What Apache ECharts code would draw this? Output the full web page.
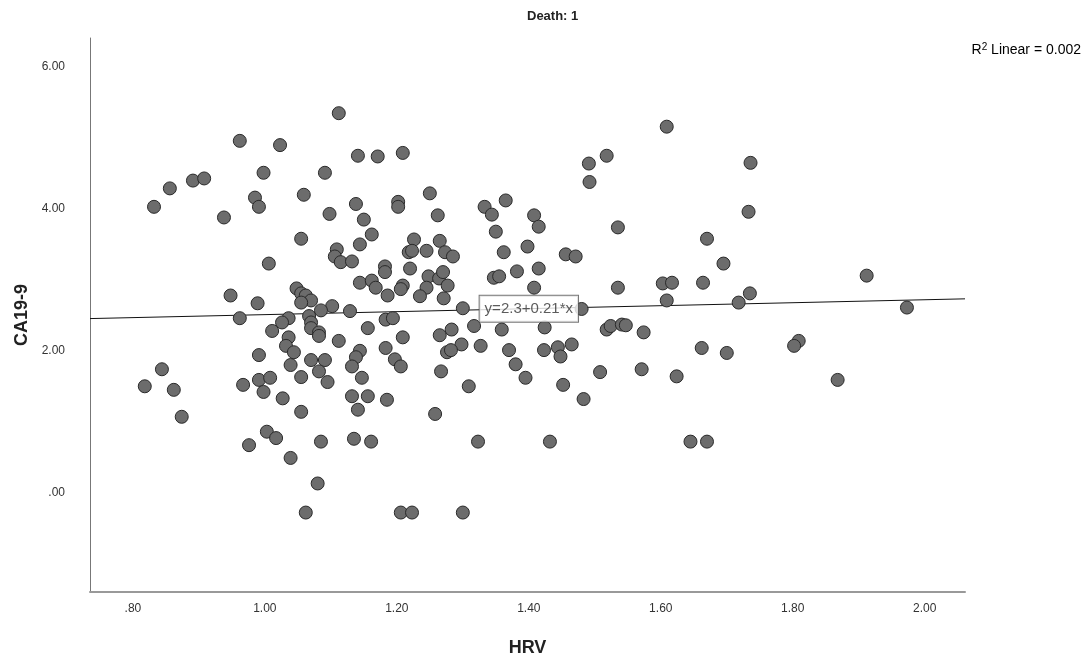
<!DOCTYPE html>
<html><head><meta charset="utf-8">
<script src="https://cdn.jsdelivr.net/npm/echarts@6/dist/echarts.min.js"></script>
<style>html,body{margin:0;padding:0;background:#fff}#c{width:1084px;height:658px}</style>
</head><body><div id="c"></div>
<script>
// HRV (x) values of each case
const hrv = [
1.112,0.962,1.023,1.141,1.171,0.998,1.091,0.856,0.891,0.908,0.832,0.985,0.991,1.059,1.138,0.938,1.098,1.150,
1.209,1.609,1.491,1.518,1.492,1.202,1.202,1.250,1.262,1.333,1.344,1.365,1.408,1.415,1.535,1.350,1.736,1.733,
1.055,1.162,1.144,1.109,1.106,1.115,1.132,1.006,1.182,1.182,1.144,1.162,1.168,1.186,1.048,1.055,1.062,1.070,
1.055,0.948,0.989,1.102,1.085,1.129,0.962,1.036,1.026,1.067,1.070,1.070,1.082,1.082,1.156,1.183,1.011,1.036,
1.032,1.044,1.112,1.144,1.138,1.132,1.183,0.991,1.039,1.070,1.091,1.082,0.844,1.055,1.147,0.818,0.862,0.967,
0.991,1.008,1.095,0.998,1.027,1.132,1.156,1.185,1.055,1.141,0.874,1.003,1.017,0.976,1.039,1.085,1.135,1.161,
1.080,1.062,1.226,1.265,1.218,1.223,1.245,1.273,1.285,1.362,1.398,1.456,1.471,1.220,1.248,1.264,1.270,1.347,
1.355,1.382,1.415,1.209,1.206,1.245,1.277,1.408,1.535,1.603,1.617,1.235,1.271,1.300,1.480,1.609,1.194,1.317,
1.359,1.424,1.518,1.524,1.541,1.547,1.574,1.283,1.265,1.209,1.298,1.327,1.276,1.282,1.370,1.423,1.444,1.465,
1.448,1.197,1.206,1.267,1.380,1.395,1.508,1.571,1.624,1.309,1.452,1.483,1.258,1.670,1.695,1.664,1.718,1.735,
1.912,1.973,1.662,1.700,1.809,1.802,1.868,1.323,1.432,1.206,1.223,1.300,1.645,1.670
];
// CA19-9 (y) values of each case
const ca199 = [
5.35,4.96,4.90,4.75,4.74,4.51,4.51,4.29,4.40,4.43,4.03,4.16,4.03,4.20,4.07,3.88,3.93,3.85,
4.79,5.16,4.64,4.75,4.38,4.10,4.03,4.22,3.91,4.03,3.92,4.12,3.91,3.75,3.74,3.68,4.65,3.96,
3.58,3.64,3.50,3.43,3.33,3.25,3.26,3.23,3.19,3.11,2.96,2.99,2.89,2.78,2.88,2.81,2.78,2.71,
2.68,2.78,2.67,2.63,2.57,2.56,2.46,2.46,2.40,2.49,2.40,2.32,2.26,2.21,2.32,2.44,2.28,2.19,
2.07,1.98,2.14,2.00,1.91,1.78,2.04,1.94,1.80,1.87,1.87,1.71,1.74,1.63,1.62,1.50,1.45,1.52,
1.59,1.62,1.56,1.42,1.33,1.36,1.36,1.31,1.14,1.17,1.07,0.86,0.77,0.67,0.49,0.72,0.76,0.72,
0.13,-0.28,3.57,3.55,3.39,3.41,3.41,3.39,3.33,3.39,3.47,3.36,3.33,3.16,3.05,3.02,3.11,3.03,
3.05,3.12,3.16,2.92,2.87,2.89,2.92,2.89,2.89,2.95,2.96,2.77,2.74,2.60,2.59,2.71,2.46,2.35,
2.30,2.33,2.30,2.35,2.37,2.36,2.26,2.30,2.22,2.19,2.09,2.07,1.98,2.01,2.01,2.01,2.05,2.09,
1.92,1.88,1.78,1.71,1.81,1.62,1.70,1.74,1.64,1.50,1.52,1.32,1.11,3.58,3.23,2.96,2.68,2.81,
3.06,2.61,2.04,1.97,2.14,2.07,1.59,0.72,0.72,-0.28,-0.28,-0.28,0.72,0.72
];
const xTicks = [0.8, 1.0, 1.2, 1.4, 1.6, 1.8, 2.0];
const yTicks = [0, 2, 4, 6];
const fitIntercept = 2.3;
const fitSlope = 0.21;
const rSquared = '0.002';
const chartTitle = 'Death: 1';
const xName = 'HRV';
const yName = 'CA19-9';

const xMin = 0.735, xMax = 2.061, yMin = -1.40, yMax = 6.41;
const fmt = v => { let s = Number(v).toFixed(2); if (s.startsWith('0.')) s = s.slice(1); if (s.startsWith('-0.')) s = '-' + s.slice(2); return s; };
const points = hrv.map((x, i) => [x, ca199[i]]);
const fitLine = [[xMin, fitIntercept + fitSlope * xMin], [xMax, fitIntercept + fitSlope * xMax]];
const labelX = 1.4;
const font = '"Liberation Sans", Arial, sans-serif';

const chart = echarts.init(document.getElementById('c'), null, {renderer: 'canvas'});
chart.setOption({
  animation: false,
  backgroundColor: '#fff',
  grid: {left: 90, right: 119, top: 38, bottom: 66, containLabel: false, outerBoundsMode: 'none'},
  xAxis: {
    type: 'value', min: xMin, max: xMax,
    name: xName, nameLocation: 'middle', nameGap: 47,
    nameTextStyle: {fontFamily: font, fontSize: 18, fontWeight: 'bold', color: '#222'},
    axisLine: {show: true, onZero: false, lineStyle: {color: '#999', width: 2}},
    axisTick: {show: false},
    splitLine: {show: false},
    axisLabel: {customValues: xTicks, formatter: fmt, fontFamily: font, fontSize: 12, color: '#333', margin: 11}
  },
  yAxis: {
    type: 'value', min: yMin, max: yMax,
    name: yName, nameLocation: 'middle', nameGap: 57, nameRotate: 90,
    nameTextStyle: {fontFamily: font, fontSize: 18, fontWeight: 'bold', color: '#222'},
    axisLine: {show: true, onZero: false, lineStyle: {color: '#777', width: 1}},
    axisTick: {show: false},
    splitLine: {show: false},
    axisLabel: {customValues: yTicks, formatter: fmt, fontFamily: font, fontSize: 12, color: '#333', margin: 25}
  },
  graphic: [
    {type: 'text', left: 527, top: 10, style: {text: chartTitle, font: 'bold 13px ' + font, fill: '#222', textAlign: 'center'}},
    {type: 'text', right: 3, top: 42, style: {
      text: '{n|R}{s|2}{n| Linear = ' + rSquared + '}',
      rich: {n: {fontFamily: font, fontSize: 14, color: '#333'}, s: {fontFamily: font, fontSize: 10, color: '#333', verticalAlign: 'top', padding: [0,0,7,0]}}
    }}
  ],
  series: [
    {
      type: 'line', data: fitLine, symbol: 'none', silent: true, z: 1,
      lineStyle: {color: '#111', width: 1}
    },
    {
      type: 'scatter', data: points, symbol: 'circle', symbolSize: 13, z: 2,
      itemStyle: {color: '#6c6c6c', borderColor: '#2a2a2a', borderWidth: 1, opacity: 1}
    },
    {
      type: 'scatter', data: [[labelX, fitIntercept + fitSlope * labelX]], symbolSize: 1, z: 5,
      itemStyle: {color: 'rgba(0,0,0,0)'},
      label: {show: true, position: 'inside', formatter: 'y=' + fitIntercept + '+' + fitSlope + '*x',
        fontFamily: font, fontSize: 15, color: '#333', backgroundColor: '#fff',
        borderColor: '#555', borderWidth: 1, padding: [6, 5, 5, 5]}
    }
  ]
});
</script></body></html>
